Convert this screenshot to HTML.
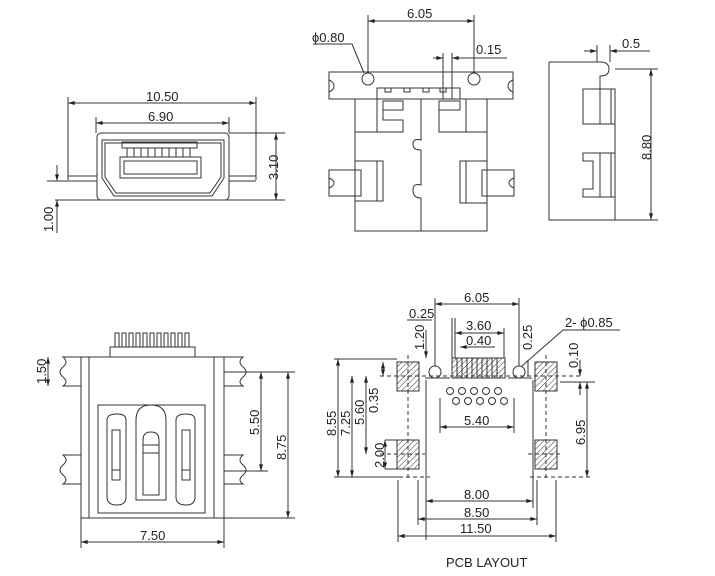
<!DOCTYPE html>
<html><head><meta charset="utf-8"><style>
html,body{margin:0;padding:0;background:#fff;}
svg{display:block;}
text{font-family:"Liberation Sans",sans-serif;font-size:13px;fill:#222;}
</style></head><body>
<svg width="715" height="576" viewBox="0 0 715 576" xmlns="http://www.w3.org/2000/svg">
<defs>
<marker id="a" viewBox="0 0 10 6" refX="10" refY="3" markerWidth="8" markerHeight="4" orient="auto-start-reverse"><path d="M0,0L10,3L0,6z" fill="#222"/></marker>
<pattern id="h" width="4" height="4" patternUnits="userSpaceOnUse" patternTransform="rotate(45)"><line x1="0" y1="0" x2="0" y2="4" stroke="#333" stroke-width="1"/></pattern>
</defs>
<g stroke="#333" stroke-width="1" fill="none">
<!-- TOP LEFT -->
<line x1="68" y1="97" x2="68" y2="180"/><line x1="256" y1="97" x2="256" y2="180"/>
<line x1="68" y1="103" x2="256" y2="103" marker-start="url(#a)" marker-end="url(#a)"/>
<line x1="96" y1="117" x2="96" y2="133"/><line x1="229" y1="117" x2="229" y2="133"/>
<line x1="96" y1="123" x2="229" y2="123" marker-start="url(#a)" marker-end="url(#a)"/>
<rect x="97" y="133" width="132" height="67" rx="4"/>
<path d="M102,140 H224 V178 L212,196 H114 L102,178 Z"/>
<path d="M105,143 H221 V177 L210,193 H116 L105,177 Z"/>
<rect x="122" y="142" width="75" height="6"/>
<path d="M127,148v9M134,148v9M141,148v9M148,148v9M155,148v9M162,148v9M169,148v9M176,148v9M183,148v9M190,148v9"/>
<rect x="120" y="157" width="81" height="21"/><rect x="124" y="161" width="73" height="13"/>
<path d="M68,176H97M68,181H97M229,176H256M229,181H256"/>
<line x1="47" y1="181" x2="97" y2="181"/><line x1="55" y1="200" x2="285" y2="200"/>
<line x1="229" y1="133" x2="285" y2="133"/>
<line x1="276" y1="133" x2="276" y2="200" marker-start="url(#a)" marker-end="url(#a)"/>
<line x1="57" y1="165" x2="57" y2="181" marker-end="url(#a)"/>
<line x1="57" y1="233" x2="57" y2="200" marker-end="url(#a)"/>
<!-- TOP MIDDLE -->
<path d="M329,72H513V99H329Z"/>
<path d="M329,80q5,2 5,6q0,4 -5,6M513,80q-5,2 -5,6q0,4 5,6"/>
<circle cx="368" cy="79" r="6"/><circle cx="474" cy="79" r="6"/>
<line x1="368" y1="15" x2="368" y2="73"/><line x1="474" y1="15" x2="474" y2="73"/>
<line x1="368" y1="21" x2="474" y2="21" marker-start="url(#a)" marker-end="url(#a)"/>
<path d="M313,44H352L364,73"/>
<line x1="443" y1="53" x2="443" y2="99"/><line x1="452" y1="53" x2="452" y2="99"/>
<line x1="433" y1="58" x2="443" y2="58" marker-end="url(#a)"/><line x1="507" y1="58" x2="452" y2="58" marker-end="url(#a)"/>
<path d="M377,99V88H460V99M385,88v4h6v-4M404,88v4h6v-4M423,88v4h6v-4M440,88v4h6v-4"/>
<rect x="355" y="99" width="132" height="132"/>
<path d="M377,99V132H355M466,99V132H487"/>
<path d="M383,101H403V110H383ZM383,110V120H403V132H377" />
<path d="M460,101H439V110H460ZM439,110V132H466"/>
<path d="M421,99V140q-8,-2 -8,4q0,6 8,6V185q-8,-2 -8,5q0,8 8,8V231"/>
<path d="M361,170H329V196H361ZM329,178q5,2 5,5q0,3 -5,5"/>
<path d="M355,161H383V201H355M377,161V201"/>
<path d="M482,170H514V196H482ZM514,178q-5,2 -5,5q0,3 5,5"/>
<path d="M487,161H460V203H487M466,161V203"/>
<!-- TOP RIGHT -->
<path d="M549,62H600q9,0 9,7q0,7 -9,7V89M549,62V220H615V89"/>
<rect x="583" y="89" width="32" height="35"/><line x1="600" y1="89" x2="600" y2="124"/><line x1="611" y1="89" x2="611" y2="124"/>
<path d="M583,153H615V197H583V189H593V161H583Z"/><line x1="600" y1="153" x2="600" y2="197"/><line x1="611" y1="153" x2="611" y2="197"/>
<line x1="597" y1="45" x2="597" y2="62"/><line x1="610" y1="45" x2="610" y2="62"/>
<line x1="584" y1="51" x2="597" y2="51" marker-end="url(#a)"/><line x1="650" y1="51" x2="610" y2="51" marker-end="url(#a)"/>
<line x1="615" y1="69" x2="658" y2="69"/><line x1="615" y1="220" x2="658" y2="220"/>
<line x1="651" y1="69" x2="651" y2="220" marker-start="url(#a)" marker-end="url(#a)"/>
<!-- BOTTOM LEFT -->
<rect x="81" y="357" width="143" height="161"/>
<line x1="89" y1="357" x2="89" y2="518"/><line x1="214" y1="357" x2="214" y2="518"/>
<rect x="110" y="347" width="85" height="10"/>
<path d="M115,347V333h4v14M122,347V333h4v14M129,347V333h4v14M136,347V333h4v14M143,347V333h4v14M150,347V333h4v14M157,347V333h4v14M164,347V333h4v14M171,347V333h4v14M178,347V333h4v14M185,347V333h4v14"/>
<path d="M81,357H63q6,5 0,10q-6,5 0,10q6,5 0,9H81"/>
<path d="M81,455H63q6,5 0,10q-6,5 0,10q6,5 0,9H81"/>
<path d="M224,357H243q-6,5 0,10q6,5 0,10q-6,5 0,9H224"/>
<path d="M224,455H243q-6,5 0,10q6,5 0,10q-6,5 0,9H224"/>
<rect x="98" y="405" width="107" height="108"/>
<path d="M107,420q0,-6 10,-6q9,0 9,6V497q0,8 -9,8q-10,0 -10,-8Z"/>
<path d="M112,430h8v50h-8z M112,470h8"/>
<path d="M176,420q0,-6 10,-6q9,0 9,6V497q0,8 -9,8q-10,0 -10,-8Z"/>
<path d="M182,430h8v50h-8z M182,470h8"/>
<path d="M136,500V420q0,-15 15,-15q15,0 15,15V500H136Z"/>
<path d="M143,495V440q0,-8 8,-8q8,0 8,8V495Z M143,445h16M143,453h16"/>
<line x1="48" y1="357" x2="48" y2="386" marker-start="url(#a)" marker-end="url(#a)"/>
<line x1="224" y1="372" x2="295" y2="372"/><line x1="224" y1="471" x2="268" y2="471"/><line x1="224" y1="518" x2="295" y2="518"/>
<line x1="261" y1="372" x2="261" y2="471" marker-start="url(#a)" marker-end="url(#a)"/>
<line x1="288" y1="372" x2="288" y2="518" marker-start="url(#a)" marker-end="url(#a)"/>
<line x1="81" y1="518" x2="81" y2="548"/><line x1="224" y1="518" x2="224" y2="548"/>
<line x1="81" y1="542" x2="224" y2="542" marker-start="url(#a)" marker-end="url(#a)"/>
<!-- PCB -->
<rect x="397" y="362" width="22" height="29" fill="url(#h)"/><rect x="535" y="362" width="22" height="29" fill="url(#h)"/>
<rect x="397" y="440" width="22" height="29" fill="url(#h)"/><rect x="535" y="440" width="22" height="29" fill="url(#h)"/>
<rect x="452" y="358" width="53" height="20" fill="url(#h)"/>
<path d="M457,358v20M462,358v20M467,358v20M472,358v20M477,358v20M482,358v20M487,358v20M492,358v20M497,358v20"/>
<circle cx="435" cy="372" r="6"/><circle cx="519" cy="372" r="6"/>
<g>
<circle cx="450" cy="391" r="3.5"/><circle cx="462" cy="391" r="3.5"/><circle cx="474" cy="391" r="3.5"/><circle cx="486" cy="391" r="3.5"/><circle cx="498" cy="391" r="3.5"/>
<circle cx="456" cy="401" r="3.5"/><circle cx="468" cy="401" r="3.5"/><circle cx="480" cy="401" r="3.5"/><circle cx="492" cy="401" r="3.5"/><circle cx="504" cy="401" r="3.5"/>
</g>
<g stroke-dasharray="4,3">
<line x1="380" y1="376" x2="580" y2="376"/><line x1="380" y1="454" x2="425" y2="454"/><line x1="528" y1="454" x2="562" y2="454"/>
<line x1="408" y1="355" x2="408" y2="480"/><line x1="546" y1="355" x2="546" y2="480"/>
<line x1="385" y1="477" x2="430" y2="477"/><line x1="530" y1="477" x2="590" y2="477"/>
</g>
<line x1="435" y1="298" x2="435" y2="366"/><line x1="519" y1="298" x2="519" y2="366"/>
<line x1="435" y1="304" x2="519" y2="304" marker-start="url(#a)" marker-end="url(#a)"/>
<line x1="452" y1="318" x2="452" y2="358"/><line x1="455" y1="318" x2="455" y2="358"/><line x1="504" y1="328" x2="504" y2="358"/>
<line x1="455" y1="333" x2="504" y2="333" marker-start="url(#a)" marker-end="url(#a)"/>
<line x1="460" y1="347" x2="495" y2="347" marker-start="url(#a)"/>
<line x1="407" y1="320" x2="432" y2="320"/>
<line x1="426" y1="330" x2="426" y2="358" marker-end="url(#a)"/>
<line x1="528" y1="360" x2="528" y2="376"/>
<path d="M522,366L563,330H620"/>
<line x1="450" y1="378" x2="425" y2="378"/><line x1="508" y1="378" x2="532" y2="378"/>
<line x1="426" y1="380" x2="426" y2="540"/><line x1="533" y1="380" x2="533" y2="508"/>
<line x1="418" y1="480" x2="418" y2="525"/><line x1="537" y1="480" x2="537" y2="525"/>
<line x1="398" y1="480" x2="398" y2="542"/><line x1="556" y1="480" x2="556" y2="542"/>
<line x1="440" y1="398" x2="440" y2="433"/><line x1="514" y1="398" x2="514" y2="433"/>
<line x1="440" y1="427" x2="514" y2="427" marker-start="url(#a)" marker-end="url(#a)"/>
<line x1="426" y1="501" x2="533" y2="501" marker-start="url(#a)" marker-end="url(#a)"/>
<line x1="418" y1="519" x2="537" y2="519" marker-start="url(#a)" marker-end="url(#a)"/>
<line x1="398" y1="536" x2="556" y2="536" marker-start="url(#a)" marker-end="url(#a)"/>
<line x1="334" y1="359" x2="397" y2="359"/><line x1="334" y1="477" x2="400" y2="477"/>
<line x1="338" y1="359" x2="338" y2="477" marker-start="url(#a)" marker-end="url(#a)"/>
<line x1="352" y1="376" x2="352" y2="477" marker-start="url(#a)" marker-end="url(#a)"/>
<line x1="366" y1="376" x2="366" y2="454" marker-start="url(#a)" marker-end="url(#a)"/>
<line x1="383" y1="362" x2="383" y2="376" marker-start="url(#a)" marker-end="url(#a)"/>
<line x1="385" y1="440" x2="397" y2="440"/><line x1="385" y1="469" x2="397" y2="469"/>
<line x1="385" y1="440" x2="385" y2="469" marker-start="url(#a)" marker-end="url(#a)"/>
<line x1="560" y1="382" x2="595" y2="382"/>
<line x1="587" y1="382" x2="587" y2="477" marker-start="url(#a)" marker-end="url(#a)"/>
<line x1="580" y1="360" x2="580" y2="376" marker-end="url(#a)"/>
<line x1="580" y1="395" x2="580" y2="382" marker-end="url(#a)"/>
</g>
<g>
<text x="146" y="101">10.50</text>
<text x="148" y="121">6.90</text>
<text x="278" y="180" transform="rotate(-90 278 180)">3.10</text>
<text x="53" y="232" transform="rotate(-90 53 232)">1.00</text>
<text x="407" y="18">6.05</text>
<text x="312" y="42">ϕ0.80</text>
<text x="476" y="54">0.15</text>
<text x="622" y="48">0.5</text>
<text x="651" y="160" transform="rotate(-90 651 160)">8.80</text>
<text x="46" y="384" transform="rotate(-90 46 384)">1.50</text>
<text x="259" y="435" transform="rotate(-90 259 435)">5.50</text>
<text x="286" y="460" transform="rotate(-90 286 460)">8.75</text>
<text x="140" y="540">7.50</text>
<text x="464" y="302">6.05</text>
<text x="409" y="318">0.25</text>
<text x="466" y="330">3.60</text>
<text x="466" y="345">0.40</text>
<text x="424" y="350" transform="rotate(-90 424 350)">1.20</text>
<text x="532" y="350" transform="rotate(-90 532 350)">0.25</text>
<text x="565" y="327">2- ϕ0.85</text>
<text x="578" y="368" transform="rotate(-90 578 368)">0.10</text>
<text x="336" y="436" transform="rotate(-90 336 436)">8.55</text>
<text x="350" y="436" transform="rotate(-90 350 436)">7.25</text>
<text x="364" y="425" transform="rotate(-90 364 425)">5.60</text>
<text x="378" y="413" transform="rotate(-90 378 413)">0.35</text>
<text x="384" y="468" transform="rotate(-90 384 468)">2.00</text>
<text x="585" y="445" transform="rotate(-90 585 445)">6.95</text>
<text x="464" y="425">5.40</text>
<text x="464" y="499">8.00</text>
<text x="464" y="517">8.50</text>
<text x="460" y="533">11.50</text>
<text x="446" y="567">PCB  LAYOUT</text>
</g>
</svg>
</body></html>
